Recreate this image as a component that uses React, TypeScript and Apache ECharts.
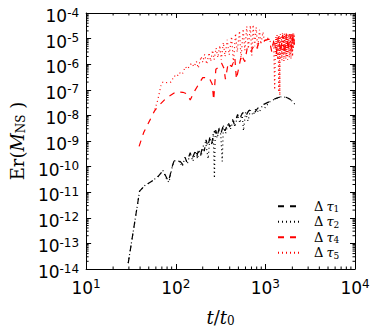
import React, { useEffect, useRef } from "react";
import * as echarts from "echarts";

const X_MIN = 10;
const X_MAX = 10000;
const Y_MIN = 1e-14;
const Y_MAX = 1e-4;
const MINOR_MULTIPLIERS = [2, 3, 4, 5, 6, 7, 8, 9];
const X_DECADES = [10, 100, 1000];
const Y_DECADES = [1e-14, 1e-13, 1e-12, 1e-11, 1e-10, 1e-9, 1e-8, 1e-7, 1e-6, 1e-5];

const SERIES_NAMES = ["Δτ1", "Δτ2", "Δτ4", "Δτ5"];
const SERIES_SUBSCRIPTS = ["1", "2", "4", "5"];

// Δτ1 (black dashed)
const tau1: [number, number][] = [
  [29.5, 1.7e-14], [39.5, 1.1e-11], [45, 1.8e-11], [54, 2.7e-11], [63, 4e-11], [72, 7e-11],
  [78, 4e-11], [83, 2.6e-11], [92, 1.1e-10], [96, 1.7e-10], [104, 1.4e-10], [112, 1.6e-10],
  [120, 1.2e-10], [127, 2.3e-10], [133, 1.5e-10], [145, 3.5e-10], [152, 2e-10], [165, 4e-10],
  [172, 2.5e-10], [180, 4.6e-10], [190, 3e-10], [200, 6.2e-10], [208, 4e-10], [218, 1.1e-9],
  [228, 6e-10], [240, 1.4e-9], [252, 8e-10], [265, 2.2e-9], [280, 2.6e-9], [290, 1.5e-9],
  [305, 3.2e-9], [320, 2e-9], [340, 4.2e-9], [355, 2.5e-9], [385, 5.4e-9], [400, 3.5e-9],
  [430, 7e-9], [450, 4.5e-9], [490, 1.1e-8], [510, 7e-9], [560, 1.3e-8], [600, 9e-9],
  [650, 1.5e-8], [700, 1.7e-8], [760, 1.3e-8], [820, 1.9e-8], [900, 2.3e-8], [960, 2.7e-8],
  [1100, 3.4e-8], [1230, 4.2e-8], [1400, 5e-8], [1550, 5.4e-8], [1700, 5.1e-8], [1850, 4.5e-8],
  [2010, 3.5e-8], [2150, 2.7e-8],
];

// Δτ2 (black dotted)
const tau2: [number, number][] = [
  [29.5, 1.7e-14], [39.5, 1.1e-11], [45, 1.8e-11], [54, 2.7e-11], [63, 4e-11], [72, 7e-11],
  [80, 3e-11], [84, 2.4e-11], [92, 1.1e-10], [97, 1.7e-10], [110, 1.6e-10], [118, 1e-10],
  [127, 2.3e-10], [135, 1.3e-10], [145, 3.4e-10], [155, 1.6e-10], [168, 4e-10], [175, 2e-10],
  [182, 4.5e-10], [192, 2.5e-10], [201, 6e-10], [215, 9e-10], [230, 2e-10], [240, 1.3e-9],
  [255, 7e-10], [262, 2e-9], [270, 3.5e-11], [276, 2.5e-9], [290, 1.3e-9], [305, 3e-9],
  [318, 1.8e-9], [330, 1.6e-10], [340, 4e-9], [360, 2e-9], [385, 5e-9], [410, 3e-9],
  [440, 7e-9], [457, 3.5e-9], [490, 1e-8], [520, 5e-9], [550, 1.2e-8], [570, 2.5e-9],
  [600, 1.3e-8], [640, 6e-9], [680, 1.6e-8], [730, 1e-8], [780, 1.8e-8], [850, 1.3e-8],
  [920, 2.3e-8], [1000, 2e-8], [1100, 3.3e-8], [1250, 4.2e-8], [1400, 5e-8], [1550, 5.5e-8],
  [1700, 5e-8], [1850, 4.4e-8], [2000, 3.6e-8], [2150, 2.6e-8],
];

// Δτ4 (red dashed)
const tau4: [number, number][] = [
  [39, 6.2e-10], [44, 2.2e-9], [52, 7e-9], [58, 1.5e-8], [63, 2.2e-8], [78, 4.7e-8],
  [100, 8.3e-8], [120, 8e-8], [133, 7e-8], [145, 4e-8], [164, 9.5e-8], [200, 3e-7],
  [235, 3e-7], [255, 1.7e-7], [265, 4e-8], [280, 6.3e-7], [300, 7.5e-7], [325, 1.1e-6],
  [345, 7e-7], [358, 2.6e-7], [385, 1.1e-6], [420, 8e-7], [457, 1.7e-6], [475, 2.6e-7],
  [540, 2.3e-6], [590, 1.26e-6], [630, 4.7e-6], [690, 3.2e-6], [750, 5.4e-6], [800, 4e-6],
  [850, 7.4e-6], [960, 8.3e-6], [1100, 9.5e-6], [1180, 3e-6], [1250, 1e-5], [1320, 2.5e-6],
  [1400, 1.2e-5], [1480, 3e-6], [1560, 1.4e-5], [1640, 2.5e-6], [1720, 1.5e-5], [1800, 3.5e-6],
  [1880, 1.5e-5], [1960, 4e-6], [2040, 1.5e-5], [2110, 6e-6],
];

// Δτ5 (red dotted)
const tau5: [number, number][] = [
  [58.6, 1.7e-8], [63, 4e-8], [69, 1.7e-7], [72, 2e-7], [80, 1.9e-7], [88, 2e-7], [92, 2.6e-7],
  [96, 3.5e-7], [103, 3.2e-7], [109, 4.7e-7], [118, 4e-7], [128, 8e-7], [135, 6.5e-7],
  [150, 1.1e-6], [160, 8e-7], [170, 1.3e-6], [178, 7e-7], [192, 2e-6], [200, 1.2e-6],
  [210, 2.4e-6], [222, 1e-6], [235, 2.8e-6], [245, 1.3e-6], [258, 3.5e-6], [268, 1.5e-6],
  [282, 4.3e-6], [295, 1.8e-6], [310, 5.4e-6], [322, 1.5e-6], [340, 7e-6], [355, 2e-6],
  [375, 9e-6], [395, 2.3e-6], [420, 1.2e-5], [440, 1.1e-6], [465, 1.6e-5], [485, 3e-6],
  [515, 2e-5], [535, 1.5e-6], [565, 2.4e-5], [590, 3.5e-6], [620, 3e-5], [645, 4e-6],
  [680, 3.3e-5], [705, 2.2e-6], [730, 3.5e-5], [760, 5e-6], [790, 2.8e-5], [820, 4e-6],
  [860, 2.2e-5], [890, 6e-6], [940, 1.8e-5], [980, 7e-6], [1050, 1.1e-5], [1120, 8e-6],
  [1200, 6.5e-6], [1240, 5e-6], [1270, 1e-7], [1290, 3e-6], [1310, 1.2e-5], [1330, 2e-6],
  [1350, 1.4e-5], [1370, 1.5e-6], [1390, 1.1e-5], [1410, 8e-8], [1430, 1.3e-5], [1450, 6e-8],
  [1470, 1.5e-5], [1490, 1.8e-6], [1510, 1.2e-5], [1530, 1.4e-6], [1550, 1.6e-5], [1570, 2.2e-6],
  [1590, 1.3e-5], [1610, 1.3e-6], [1630, 1.6e-5], [1650, 2.5e-6], [1670, 1.4e-5], [1690, 1.6e-6],
  [1710, 1.7e-5], [1730, 2e-6], [1750, 1.2e-5], [1770, 1.5e-6], [1790, 1.6e-5], [1810, 3e-6],
  [1830, 1.4e-5], [1850, 1.8e-6], [1870, 1.7e-5], [1890, 2.5e-6], [1910, 1.3e-5], [1930, 1.6e-6],
  [1950, 1.6e-5], [1970, 3e-6], [1990, 1.5e-5], [2010, 2e-6], [2030, 1.7e-5], [2050, 4e-6],
  [2070, 1.6e-5], [2090, 5e-6], [2110, 1.5e-5],
];

const SERIES_DATA = [tau1, tau2, tau4, tau5];

export default function App() {
  const ref = useRef<HTMLDivElement>(null);

  useEffect(() => {
    document.body.style.margin = "0";
    if (!ref.current) return;
    const chart = echarts.init(ref.current, undefined, { renderer: "svg" });

    const minorData: number[][] = [];
    X_DECADES.forEach((d) => MINOR_MULTIPLIERS.forEach((m) => minorData.push([d * m, Y_MIN, 0])));
    Y_DECADES.forEach((d) => MINOR_MULTIPLIERS.forEach((m) => minorData.push([X_MIN, d * m, 1])));

    const supLabel = (v: number) => {
      const e = Math.round(Math.log10(v));
      return `{b|10}{s|${e}}`;
    };
    const labelRich = {
      b: { fontFamily: "DejaVu Sans", fontSize: 17, lineHeight: 19, color: "#000" },
      s: { fontFamily: "DejaVu Sans", fontSize: 12, lineHeight: 12, verticalAlign: "top", color: "#000" },
    };
    const axisLine = { show: true, lineStyle: { color: "#000", width: 1 } };
    const majorTick = { show: true, inside: true, length: 5, lineStyle: { color: "#000", width: 1 } };

    const colors = ["#000000", "#000000", "#ff0000", "#ff0000"];
    const dashes = [[6, 6], [1, 3], [6, 6], [1, 3]];

    const lineSeries = SERIES_NAMES.map((name, i) => ({
      name,
      type: "line",
      data: SERIES_DATA[i],
      symbol: "none",
      showSymbol: false,
      clip: true,
      color: colors[i],
      lineStyle: { color: colors[i], width: 1.2, type: dashes[i] },
      z: i < 2 ? 3 : 2,
    }));

    const option: any = {
      animation: false,
      backgroundColor: "#ffffff",
      grid: { left: 75, right: 19, top: 13, bottom: 53, containLabel: false },
      legend: {
        orient: "vertical",
        left: 277,
        top: 199,
        padding: 0,
        itemWidth: 21,
        itemHeight: 10,
        itemGap: 1,
        itemStyle: { opacity: 0 },
        data: SERIES_NAMES,
        formatter: (name: string) => {
          const i = SERIES_NAMES.indexOf(name);
          return `{d|Δ}{t|τ}{s|${SERIES_SUBSCRIPTS[i]}}`;
        },
        textStyle: {
          color: "#000",
          fontFamily: "DejaVu Serif",
          fontSize: 13,
          lineHeight: 14.5,
          rich: {
            d: { fontFamily: "DejaVu Serif", fontSize: 13, lineHeight: 14.5, padding: [0, 3, 0, 10], color: "#000" },
            t: { fontFamily: "DejaVu Serif", fontStyle: "italic", fontSize: 13, lineHeight: 14.5, color: "#000" },
            s: { fontFamily: "DejaVu Serif", fontSize: 9, lineHeight: 10, verticalAlign: "bottom", color: "#000" },
          },
        },
      },
      xAxis: [
        {
          type: "log",
          logBase: 10,
          min: X_MIN,
          max: X_MAX,
          interval: 1,
          position: "bottom",
          axisLine,
          axisTick: majorTick,
          splitLine: { show: false },
          axisLabel: { margin: 9, formatter: supLabel, rich: labelRich, showMinLabel: true, showMaxLabel: true },
          name: "{i|t}{r|/}{i|t}{s|0}",
          nameLocation: "middle",
          nameGap: 38,
          nameTextStyle: {
            rich: {
              i: { fontFamily: "DejaVu Serif", fontStyle: "italic", fontSize: 18, lineHeight: 20, color: "#000" },
              r: { fontFamily: "DejaVu Serif", fontSize: 18, lineHeight: 20, color: "#000" },
              s: { fontFamily: "DejaVu Serif", fontSize: 12, lineHeight: 12, verticalAlign: "bottom", color: "#000" },
            },
          },
        },
        {
          type: "log",
          logBase: 10,
          min: X_MIN,
          max: X_MAX,
          interval: 1,
          position: "top",
          axisLine,
          axisTick: majorTick,
          axisLabel: { show: false },
          splitLine: { show: false },
        },
      ],
      yAxis: [
        {
          type: "log",
          logBase: 10,
          min: Y_MIN,
          max: Y_MAX,
          interval: 1,
          position: "left",
          axisLine,
          axisTick: majorTick,
          splitLine: { show: false },
          axisLabel: { margin: 7, padding: [6, 0, 0, 0], formatter: supLabel, rich: labelRich, showMinLabel: true, showMaxLabel: true },
          name: "{r|Er(}{m|M}{s|NS}{r| )}",
          nameLocation: "middle",
          nameRotate: 90,
          nameGap: 56,
          nameTextStyle: {
            rich: {
              r: { fontFamily: "DejaVu Serif", fontSize: 18, lineHeight: 20, color: "#000" },
              m: { fontFamily: "DejaVu Serif", fontStyle: "italic", fontSize: 18, lineHeight: 20, color: "#000" },
              s: { fontFamily: "DejaVu Serif", fontSize: 12, lineHeight: 12, verticalAlign: "bottom", color: "#000" },
            },
          },
        },
        {
          type: "log",
          logBase: 10,
          min: Y_MIN,
          max: Y_MAX,
          interval: 1,
          position: "right",
          axisLine,
          axisTick: majorTick,
          axisLabel: { show: false },
          splitLine: { show: false },
        },
      ],
      series: [
        ...lineSeries,
        {
          type: "custom",
          silent: true,
          clip: false,
          xAxisIndex: 0,
          yAxisIndex: 0,
          dimensions: ["x", "y", "k"],
          encode: { x: 0, y: 1 },
          data: minorData,
          z: 10,
          renderItem: (params: any, api: any) => {
            const xv = api.value(0);
            const yv = api.value(1);
            const kind = api.value(2);
            const L = 2.5;
            const st = { stroke: "#000", lineWidth: 1 };
            if (kind === 0) {
              const b = api.coord([xv, Y_MIN]);
              const t = api.coord([xv, Y_MAX]);
              return {
                type: "group",
                children: [
                  { type: "line", shape: { x1: b[0], y1: b[1], x2: b[0], y2: b[1] - L }, style: st },
                  { type: "line", shape: { x1: t[0], y1: t[1], x2: t[0], y2: t[1] + L }, style: st },
                ],
              };
            }
            const l = api.coord([X_MIN, yv]);
            const r = api.coord([X_MAX, yv]);
            return {
              type: "group",
              children: [
                { type: "line", shape: { x1: l[0], y1: l[1], x2: l[0] + L, y2: l[1] }, style: st },
                { type: "line", shape: { x1: r[0], y1: r[1], x2: r[0] - L, y2: r[1] }, style: st },
              ],
            };
          },
        },
      ],
    };

    chart.setOption(option);
    return () => chart.dispose();
  }, []);

  return (
    <div
      ref={ref}
      style={{ position: "fixed", left: 0, top: 0, width: 374, height: 332, background: "#fff" }}
    />
  );
}
